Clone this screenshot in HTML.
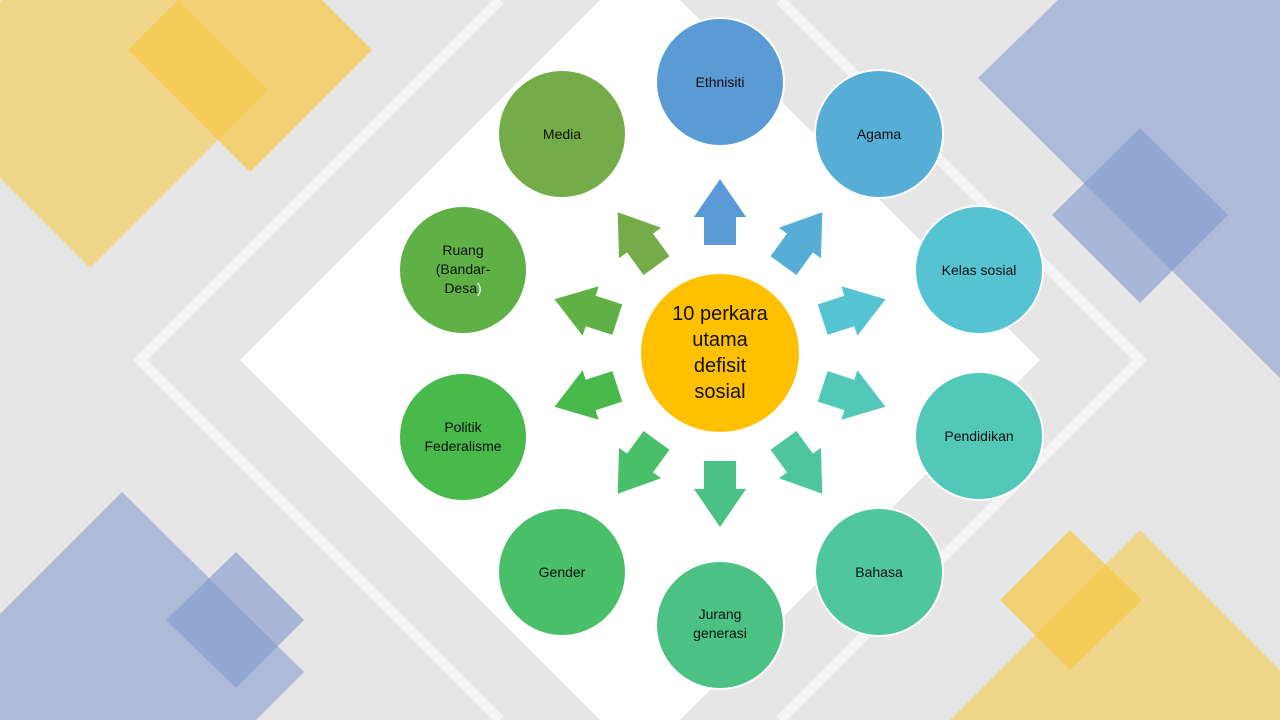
<!DOCTYPE html>
<html style="overflow:hidden"><head><meta charset="utf-8"><style>
html,body{margin:0;padding:0;width:1280px;height:720px;overflow:hidden;}
body{background:#e7e6e6;font-family:"Liberation Sans",sans-serif;}
svg{display:block;overflow:hidden}
text{font-family:"Liberation Sans",sans-serif;}
</style></head><body>
<svg width="1280" height="720" viewBox="0 0 1280 720">
<polyline points="500,0 140,360 500,720" fill="none" stroke="#f4f4f4" stroke-width="10"/>
<polyline points="780,0 1140,360 780,720" fill="none" stroke="#f4f4f4" stroke-width="10"/>
<polygon points="600,0 680,0 1040,360 680,720 600,720 240,360" fill="#ffffff"/>
<polygon points="2,0 178,0 268,90 90,268 0,178 0,2" fill="#f2cf63" opacity="0.7"/>
<polygon points="178,0 322,0 372,50 250,172 128,50" fill="#f7c844" opacity="0.7"/>
<polygon points="1058,0 1280,0 1280,378 978,78" fill="#8ea5d1" opacity="0.65"/>
<polygon points="1140,128 1228,215 1140,303 1052,215" fill="#7f97cd" opacity="0.6"/>
<polygon points="122,492 304,672 256,720 0,720 0,614" fill="#8ea5d1" opacity="0.65"/>
<polygon points="236,552 304,620 236,688 166,620" fill="#7f97cd" opacity="0.6"/>
<polygon points="1140,530 1280,670 1280,720 950,720" fill="#f2cf63" opacity="0.7"/>
<polygon points="1070,530 1142,600 1070,670 1000,600" fill="#f7c844" opacity="0.7"/>

<g transform="translate(720,353)">
<path d="M-16,33 L-16,5 L-26,5 L0,-33 L26,5 L16,5 L16,33 Z" fill="#5b9bd5" transform="rotate(0) translate(0,-141)"/>
<path d="M-16,33 L-16,5 L-26,5 L0,-33 L26,5 L16,5 L16,33 Z" fill="#56aed6" transform="rotate(36) translate(0,-141)"/>
<path d="M-16,33 L-16,5 L-26,5 L0,-33 L26,5 L16,5 L16,33 Z" fill="#55c3d1" transform="rotate(72) translate(0,-141)"/>
<path d="M-16,33 L-16,5 L-26,5 L0,-33 L26,5 L16,5 L16,33 Z" fill="#52c9b8" transform="rotate(108) translate(0,-141)"/>
<path d="M-16,33 L-16,5 L-26,5 L0,-33 L26,5 L16,5 L16,33 Z" fill="#4fc69d" transform="rotate(144) translate(0,-141)"/>
<path d="M-16,33 L-16,5 L-26,5 L0,-33 L26,5 L16,5 L16,33 Z" fill="#4bc283" transform="rotate(180) translate(0,-141)"/>
<path d="M-16,33 L-16,5 L-26,5 L0,-33 L26,5 L16,5 L16,33 Z" fill="#48bf68" transform="rotate(216) translate(0,-141)"/>
<path d="M-16,33 L-16,5 L-26,5 L0,-33 L26,5 L16,5 L16,33 Z" fill="#47ba4b" transform="rotate(252) translate(0,-141)"/>
<path d="M-16,33 L-16,5 L-26,5 L0,-33 L26,5 L16,5 L16,33 Z" fill="#5fb146" transform="rotate(288) translate(0,-141)"/>
<path d="M-16,33 L-16,5 L-26,5 L0,-33 L26,5 L16,5 L16,33 Z" fill="#73ac48" transform="rotate(324) translate(0,-141)"/>
</g>

<g stroke="#ffffff" stroke-width="2">
<circle cx="720" cy="82" r="64" fill="#5b9bd5"/>
<circle cx="879" cy="134" r="64" fill="#56aed6"/>
<circle cx="979" cy="270" r="64" fill="#55c3d1"/>
<circle cx="979" cy="436" r="64" fill="#52c9b8"/>
<circle cx="879" cy="572" r="64" fill="#4fc69d"/>
<circle cx="720" cy="625" r="64" fill="#4bc283"/>
<circle cx="562" cy="572" r="64" fill="#48bf68"/>
<circle cx="463" cy="437" r="64" fill="#47ba4b"/>
<circle cx="463" cy="270" r="64" fill="#5fb146"/>
<circle cx="562" cy="134" r="64" fill="#73ac48"/>
<circle cx="720" cy="353" r="80" fill="#ffc000"/>
</g>

<g font-size="14" fill="#111" text-anchor="middle">
<text x="720" y="87">Ethnisiti</text>
<text x="879" y="139">Agama</text>
<text x="979" y="275">Kelas sosial</text>
<text x="979" y="441">Pendidikan</text>
<text x="879" y="577">Bahasa</text>
<text x="720" y="619">Jurang</text>
<text x="720" y="638">generasi</text>
<text x="562" y="577">Gender</text>
<text x="463" y="432">Politik</text>
<text x="463" y="451">Federalisme</text>
<text x="463" y="255">Ruang</text>
<text x="463" y="274">(Bandar-</text>
<text x="463" y="293">Desa<tspan fill="#fff">)</tspan></text>
<text x="562" y="139">Media</text>
</g>
<g font-size="20" fill="#111" text-anchor="middle">
<text x="720" y="320">10 perkara</text>
<text x="720" y="346">utama</text>
<text x="720" y="372">defisit</text>
<text x="720" y="398">sosial</text>
</g>
</svg>
</body></html>
